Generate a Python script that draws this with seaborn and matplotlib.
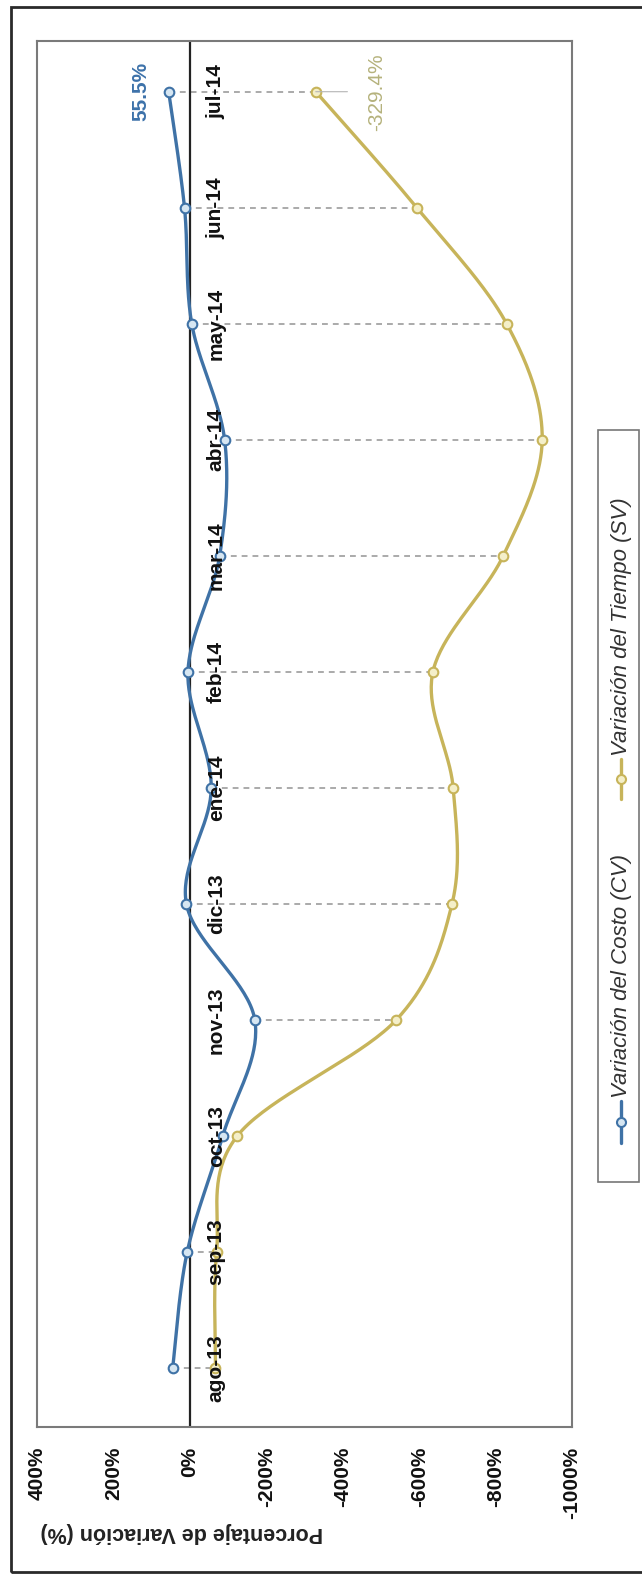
import numpy as np
import matplotlib
matplotlib.use("Agg")
import matplotlib.pyplot as plt
from matplotlib.lines import Line2D
from matplotlib.patches import Rectangle
import seaborn as sns

# ---- data ----
meses = ["ago-13", "sep-13", "oct-13", "nov-13", "dic-13", "ene-14",
         "feb-14", "mar-14", "abr-14", "may-14", "jun-14", "jul-14"]
variacion_costo = [45, 7, -86, -170, 9, -56, 5, -78, -91, -5, 14, 55.5]
variacion_tiempo = [-67, -70, -124, -540, -686, -689, -636, -820, -922, -829, -594, -329.4]
ticks_pct = [400, 200, 0, -200, -400, -600, -800, -1000]
serie_costo = "Variación del Costo (CV)"
serie_tiempo = "Variación del Tiempo (SV)"

AZUL = "#3f72a6"
AZUL_FONDO = "#d6e6f2"
OCRE = "#c7b45a"
OCRE_FONDO = "#f4efc9"

sns.set_theme(style="white")
plt.rcParams["font.family"] = ["Liberation Sans", "DejaVu Sans"]

W, H = 642, 1577


def fx(px):
    return px / W


def fy(py):
    return 1 - py / H


def suavizar(vals, n=40):
    """Catmull-Rom style Bezier smoothing through (value, index) points."""
    p = np.column_stack([vals, np.arange(len(vals))]).astype(float)
    ext = np.vstack([p[0], p, p[-1]])
    t = np.linspace(0, 1, n)[:, None]
    out = []
    for i in range(len(p) - 1):
        p0, p1, p2, p3 = ext[i], ext[i + 1], ext[i + 2], ext[i + 3]
        c1 = p1 + (p2 - p0) / 6
        c2 = p2 - (p3 - p1) / 6
        seg = ((1 - t) ** 3) * p1 + 3 * ((1 - t) ** 2) * t * c1 \
            + 3 * (1 - t) * t ** 2 * c2 + t ** 3 * p2
        out.append(seg if i == 0 else seg[1:])
    return np.vstack(out)


fig = plt.figure(figsize=(W / 100, H / 100), dpi=100)
ax = fig.add_axes([fx(37), fy(1427), fx(572) - fx(37), fy(41) - fy(1427)])

idx = np.arange(len(meses))

# drop lines between the two series at each month
ax.hlines(idx, variacion_costo, variacion_tiempo, colors="#9c9c9c",
          linestyles=(0, (3.5, 3)), lw=1.2, zorder=1)
ax.axvline(0, color="#222222", lw=1.6, zorder=2)

for vals, color, fondo in [(variacion_costo, AZUL, AZUL_FONDO),
                           (variacion_tiempo, OCRE, OCRE_FONDO)]:
    curva = suavizar(vals)
    sns.lineplot(x=curva[:, 0], y=curva[:, 1], sort=False, estimator=None,
                 color=color, lw=2.4, ax=ax, zorder=3)
    sns.scatterplot(x=vals, y=idx, s=48, color=fondo, edgecolor=color,
                    linewidth=1.5, ax=ax, zorder=4)

# month labels sitting along the zero line
for i, m in enumerate(meses):
    ax.annotate(m, xy=(0, i), xytext=(19, 0), textcoords="offset points",
                rotation=90, ha="center", va="center", fontsize=15,
                fontweight="bold", color="#111111", zorder=6)

# value labels for the last month
ax.annotate(f"{variacion_costo[-1]:.1f}%", xy=(variacion_costo[-1], idx[-1]),
            xytext=(-20, 0), textcoords="offset points", rotation=90,
            ha="center", va="center", fontsize=15, fontweight="bold",
            color="#3d72aa", zorder=6)
ax.annotate(f"{variacion_tiempo[-1]:.1f}%", xy=(variacion_tiempo[-1], idx[-1]),
            xytext=(44, 0), textcoords="offset points", rotation=90,
            ha="center", va="center", fontsize=15, color="#b5b27c", zorder=6,
            arrowprops=dict(arrowstyle="-", color="#b4b4b4", lw=0.8,
                            shrinkA=12, shrinkB=0))

ax.set_xlim(400, -1000)
ax.set_ylim(-0.508, 11.437)
ax.set_xticks(ticks_pct)
ax.set_xticklabels([f"{t}%" for t in ticks_pct], rotation=90,
                   fontsize=15, fontweight="bold", color="#111111")
ax.tick_params(axis="x", length=0, pad=14)
ax.set_yticks([])
ax.set_xlabel("")
ax.set_ylabel("")
for s in ax.spines.values():
    s.set_color("#7a7a7a")
    s.set_linewidth(1.5)

fig.text(fx(182), fy(1533), "Porcentaje de Variación (%)", rotation=180,
         ha="center", va="center", fontsize=15.5, fontweight="bold",
         color="#222222")

# legend drawn vertically on the right side
fig.add_artist(Rectangle((fx(598), fy(1182)), fx(639) - fx(598), fy(430) - fy(1182),
                         transform=fig.transFigure, facecolor="white",
                         edgecolor="#777777", lw=1.2))
for nombre, color, fondo, y0, y1 in [(serie_costo, AZUL, AZUL_FONDO, 1143, 1101),
                                     (serie_tiempo, OCRE, OCRE_FONDO, 799, 759)]:
    fig.add_artist(Line2D([fx(621), fx(621)], [fy(y0), fy(y1)], color=color, lw=2.4,
                          transform=fig.transFigure))
    fig.add_artist(Line2D([fx(621)], [fy((y0 + y1) / 2)], marker="o", ms=6.5,
                          mfc=fondo, mec=color, mew=1.5, transform=fig.transFigure))
    fig.text(fx(621), fy(y1 - 3), nombre, rotation=90, ha="center", va="bottom",
             fontsize=16, style="italic", color="#333333")

# outer frame
fig.add_artist(Rectangle((fx(11.5), fy(1572)), 1.0, fy(7) - fy(1572),
                         transform=fig.transFigure, fill=False,
                         edgecolor="#2a2a2a", lw=2))

fig.savefig("out.png", dpi=100)
